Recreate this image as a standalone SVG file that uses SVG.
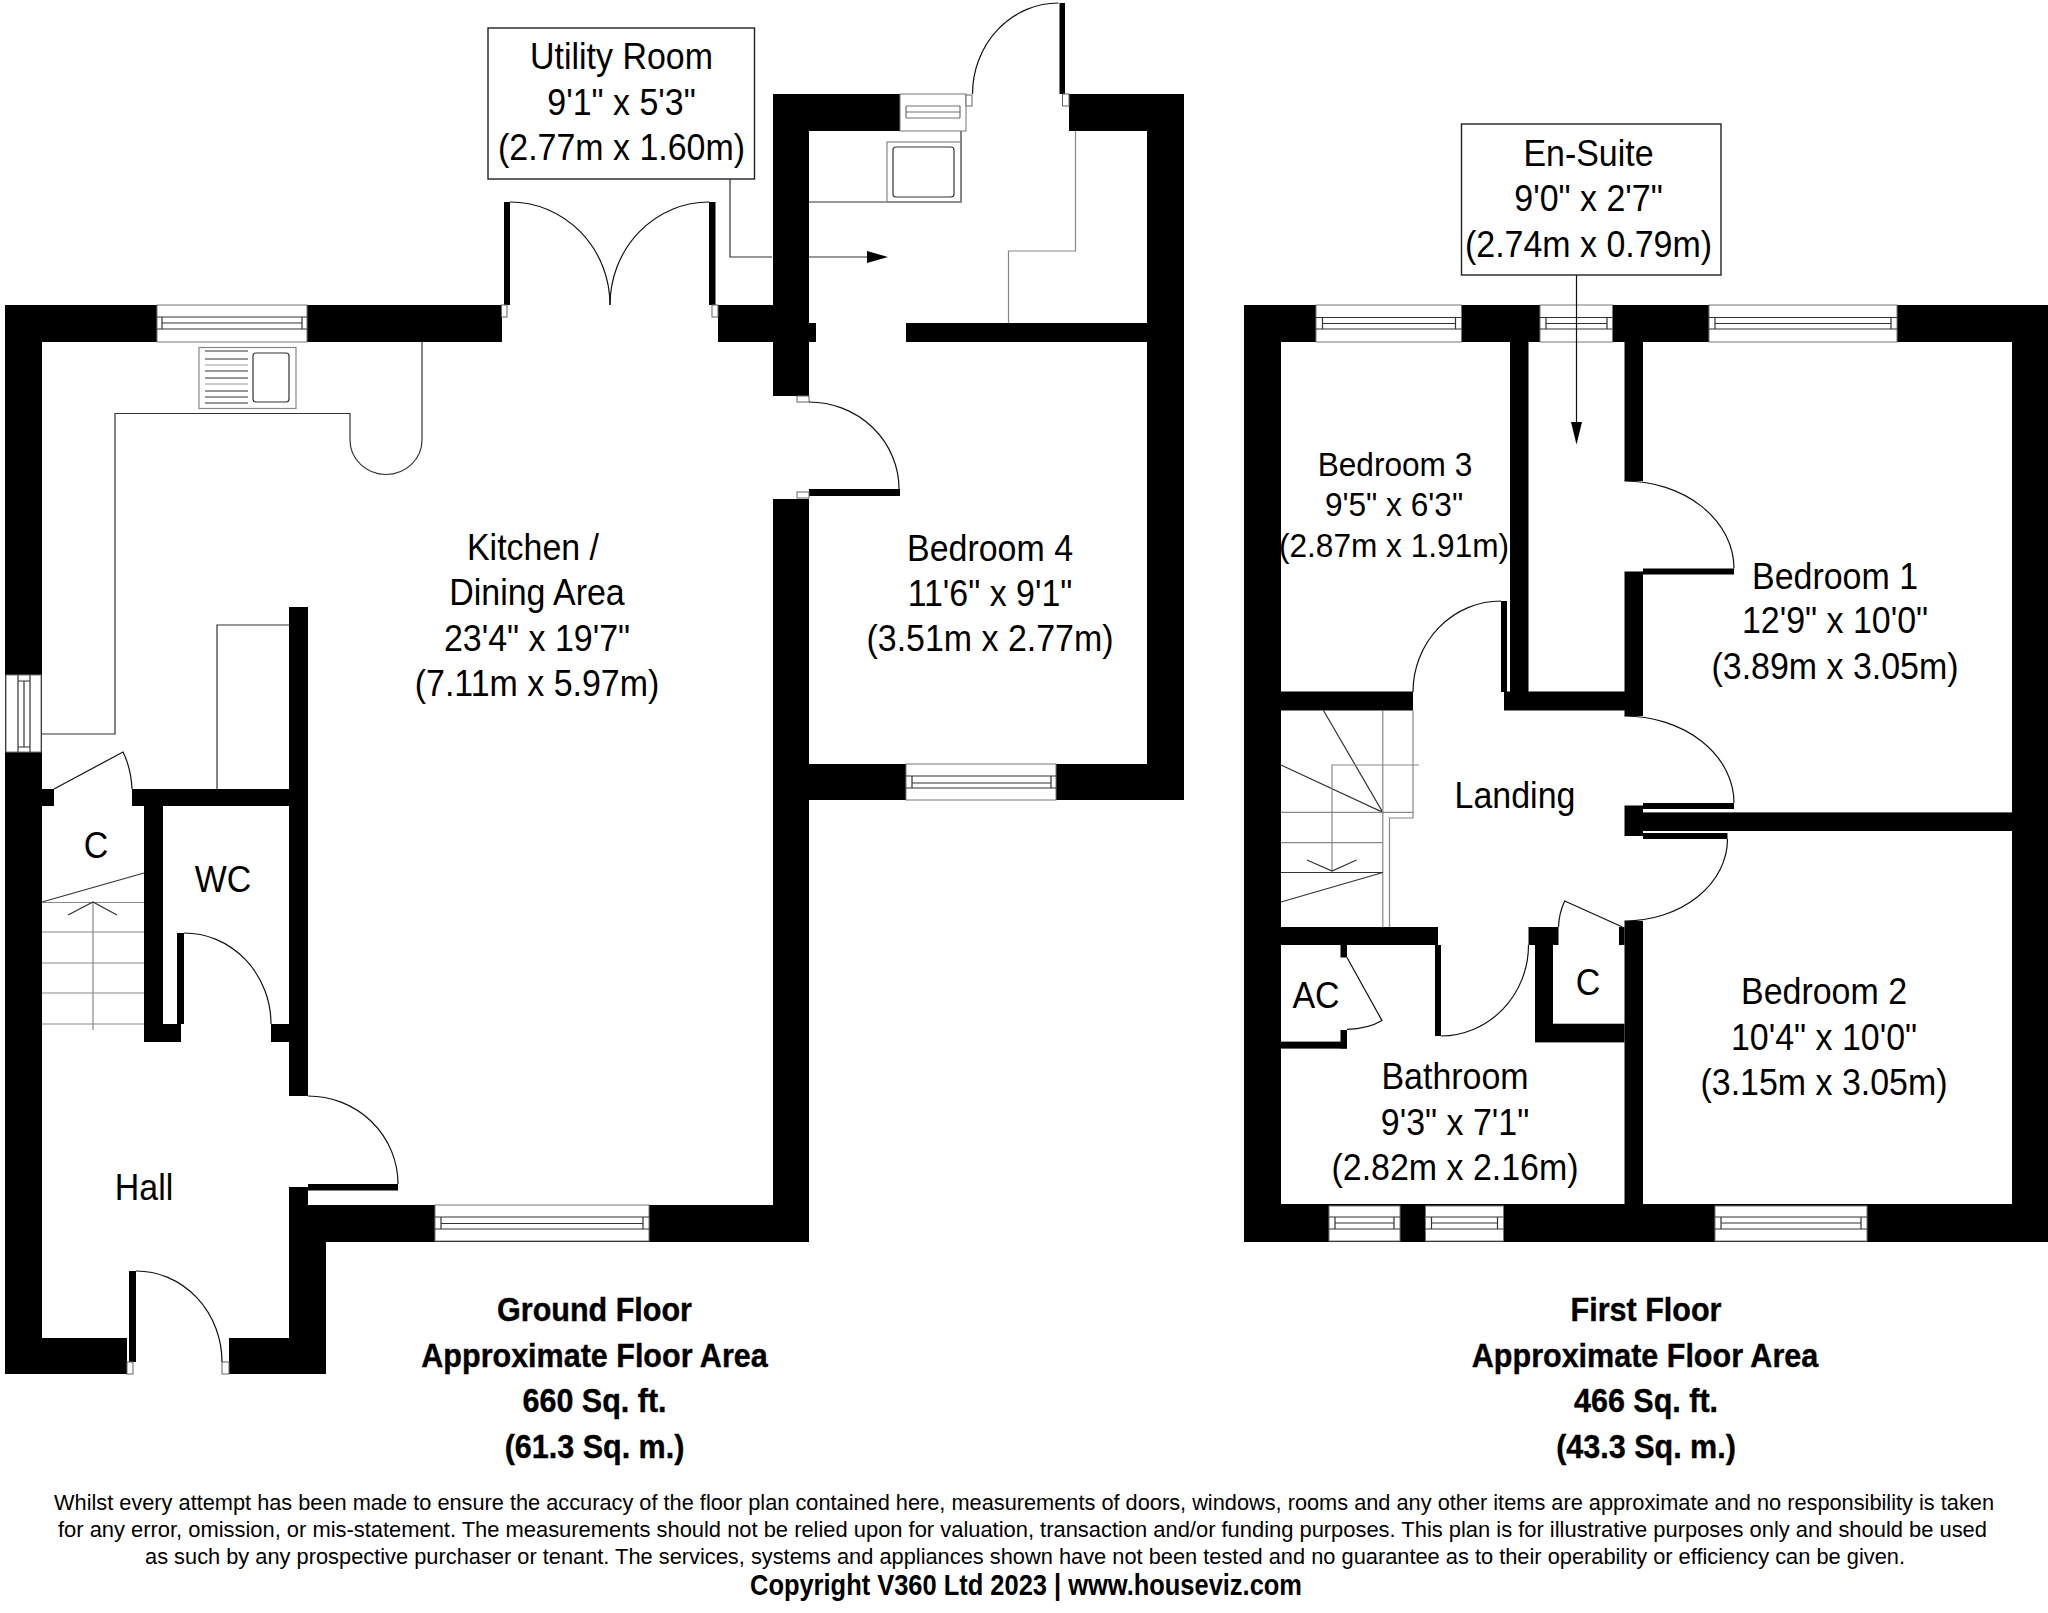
<svg xmlns="http://www.w3.org/2000/svg" width="2048" height="1613" viewBox="0 0 2048 1613">
<style>
text{font-family:"Liberation Sans",Arial,sans-serif;fill:#000;text-anchor:middle}
.r{font-size:36.500px}
.r3{font-size:34px}
.b{font-size:33px;font-weight:bold;stroke:#000;stroke-width:.4}
.f{font-size:22px}
.c{font-size:29px;font-weight:bold}
.w{fill:#000}
.win{fill:#fff;stroke:#777;stroke-width:1}
.l{fill:none;stroke:#333;stroke-width:1.2}
.g{fill:none;stroke:#888;stroke-width:1.2}
.d{fill:none;stroke:#111;stroke-width:1.2}
.box{fill:#fff;stroke:#222;stroke-width:1.4}
.fr{fill:#fff;stroke:#666;stroke-width:1}
</style>
<rect width="2048" height="1613" fill="#fff"/>

<g id="ground-floor-fittings">
<path class="l" d="M42 734H115V413.500H350V440A36 34.500 0 0 0 422 440V342"/>
<rect class="g" x="199" y="347.500" width="97" height="61"/>
<rect class="l" x="253" y="353" width="36" height="49" rx="3"/>
<path class="l" d="M205 351H248M205 359H248M205 371H248M205 378H248M205 391H248M205 397H248M205 403H248"/>
<path class="l" d="M205 365H248M205 384H248" stroke-opacity=".5"/>
<path class="l" d="M289 625H217V789"/>
<path class="l" d="M961 131V202H809"/>
<rect class="g" x="887" y="142" width="74" height="60"/>
<rect class="l" x="893" y="147" width="61" height="50" rx="3"/>
<path class="g" d="M1075.500 131V251H1008.500V323"/>
<path class="l" d="M42 902L144 873"/>
<path class="g" d="M42 902.500H144M42 932H144M42 963H144M42 993H144M42 1024H144M93 902V1030"/>
<path class="l" d="M68 915L93 902L117 915"/>
</g>

<g id="ground-floor-walls" class="w">
<rect x="5" y="305" width="37" height="1069"/>
<rect x="5" y="305" width="497" height="37"/>
<rect x="718" y="305" width="55" height="37"/>
<rect x="773" y="94" width="36" height="302"/>
<rect x="809" y="323" width="7" height="19"/>
<rect x="906" y="323" width="241" height="19"/>
<rect x="773" y="94" width="127" height="37"/>
<rect x="1069" y="94" width="115" height="37"/>
<rect x="1147" y="94" width="37" height="706"/>
<rect x="773" y="764" width="411" height="36"/>
<rect x="773" y="499" width="36" height="743"/>
<rect x="308" y="1205" width="501" height="37"/>
<rect x="289" y="607" width="19" height="489"/>
<rect x="132" y="789" width="157" height="17"/>
<rect x="42" y="789" width="12" height="17"/>
<rect x="144" y="806" width="19" height="236"/>
<rect x="144" y="1024" width="37" height="18"/>
<rect x="271" y="1024" width="18" height="18"/>
<rect x="177" y="933" width="7" height="91"/>
<rect x="289" y="1187" width="19" height="18"/>
<rect x="289" y="1205" width="37" height="169"/>
<rect x="5" y="1338" width="122" height="36"/>
<rect x="229" y="1338" width="97" height="36"/>
<rect x="129" y="1271" width="7" height="91"/>
<rect x="308" y="1184" width="90" height="6.500"/>
<rect x="504" y="202" width="6" height="103"/>
<rect x="709" y="202" width="6.500" height="103"/>
<rect x="1059.500" y="3" width="5.500" height="91"/>
<rect x="809" y="489" width="91" height="7"/>
</g>

<g id="ground-floor-windows">
<rect class="win" x="157" y="305" width="150" height="37"/>
<path class="l" d="M157 317H307M162 323H302M157 329H307M162 317V329M302 317V329"/>
<rect class="win" x="6" y="675" width="35" height="77"/>
<path class="l" d="M18 675V752M24 681V747M30 675V752M18 681H30M18 747H30"/>
<rect class="win" x="906" y="764" width="150" height="36"/>
<path class="l" d="M906 776H1056M912 783H1051M906 788H1056M912 776V788M1051 776V788"/>
<rect class="win" x="435" y="1205" width="214" height="36"/>
<path class="l" d="M435 1217H649M441 1223.500H643M435 1229H649M441 1217V1229M643 1217V1229"/>
<rect class="win" x="900" y="94" width="66" height="37"/>
<path class="l" d="M906 106H960M906 112H960M906 118H960M906 106V118M960 106V118" stroke-opacity=".7"/>
<rect class="fr" x="966" y="95" width="6" height="11"/>
<rect class="fr" x="1062.500" y="94" width="6.500" height="12"/>
<rect class="fr" x="501.500" y="305" width="5.500" height="12"/>
<rect class="fr" x="712" y="305" width="6" height="12"/>
<rect class="fr" x="797" y="396" width="12" height="6"/>
<rect class="fr" x="797" y="492" width="12" height="6"/>
<rect class="fr" x="127" y="1362" width="6" height="12"/>
<rect class="fr" x="222" y="1362" width="7" height="12"/>
</g>

<g id="ground-floor-doors">
<path class="d" d="M54 789L123 752Q131 768 132 789"/>
<path class="d" d="M184 933A87 91 0 0 1 271 1024"/>
<path class="d" d="M308 1096A90 88 0 0 1 398 1184"/>
<path class="d" d="M136 1271A86 91 0 0 1 222 1362"/>
<path class="d" d="M510 202A100 103 0 0 1 610 305"/>
<path class="d" d="M709 202A99 103 0 0 0 610 305"/>
<path class="d" d="M1058.500 3A86 91 0 0 0 972.500 94"/>
<path class="d" d="M809 402A90 87 0 0 1 899 489"/>
</g>

<g id="first-floor-fittings">
<path class="l" d="M1323.500 710.500L1382.800 812.400L1281 765"/>
<path class="g" d="M1382.800 710.500V927M1281 812.400H1413M1413 710.500V818H1389.500V927M1281 842.600H1382.800"/>
<path class="l" d="M1281 872.500H1382.800L1281 902"/>
<path class="g" d="M1419 765H1332V871"/>
<path class="l" d="M1307 860L1332 871L1356.500 860"/>
</g>

<g id="first-floor-walls" class="w">
<rect x="1244" y="305" width="37" height="937"/>
<rect x="1244" y="305" width="804" height="37"/>
<rect x="2012" y="305" width="36" height="937"/>
<rect x="1244" y="1204" width="804" height="38"/>
<rect x="1510" y="342" width="18.500" height="368"/>
<rect x="1624.500" y="342" width="18.500" height="139"/>
<rect x="1624.500" y="571.500" width="18.500" height="144.500"/>
<rect x="1281" y="691.500" width="132" height="19"/>
<rect x="1504" y="691.500" width="139" height="19"/>
<rect x="1501" y="601" width="6" height="91"/>
<rect x="1643" y="568.500" width="91" height="6"/>
<rect x="1643" y="803" width="91" height="6"/>
<rect x="1643" y="833" width="84.500" height="6"/>
<rect x="1624.500" y="805.500" width="18.500" height="30.500"/>
<rect x="1643" y="812.400" width="369" height="18.600"/>
<rect x="1624.500" y="921" width="18.500" height="283"/>
<rect x="1281" y="927" width="157" height="18"/>
<rect x="1528.500" y="927" width="30" height="18"/>
<rect x="1535" y="945" width="18" height="97"/>
<rect x="1535" y="1023.700" width="89.500" height="18.700"/>
<rect x="1619" y="927" width="5.500" height="18"/>
<rect x="1435" y="945" width="6" height="91"/>
<rect x="1340.500" y="945" width="6.500" height="12.500"/>
<rect x="1340.500" y="1030" width="6.500" height="18.500"/>
<rect x="1281" y="1041.600" width="66" height="7"/>
</g>

<g id="first-floor-windows">
<rect class="win" x="1316" y="305" width="145.500" height="37"/>
<path class="l" d="M1316 317.500H1461.500M1322.500 323.500H1455.500M1316 329H1461.500M1322.500 317.500V329M1455.500 317.500V329"/>
<rect class="win" x="1540" y="305" width="72.500" height="37"/>
<path class="l" d="M1540 317.500H1612.500M1546 323.500H1607M1540 329H1612.500M1546 317.500V329M1607 317.500V329"/>
<rect class="win" x="1709" y="305" width="188" height="37"/>
<path class="l" d="M1709 317.500H1897M1715 323.500H1891M1709 329H1897M1715 317.500V329M1891 317.500V329"/>
<rect class="win" x="1329" y="1206" width="71" height="35"/>
<path class="l" d="M1329 1217H1400M1335 1223H1394M1329 1229H1400M1335 1217V1229M1394 1217V1229"/>
<rect class="win" x="1425.500" y="1206" width="78" height="35"/>
<path class="l" d="M1425.500 1217H1503.500M1431.500 1223H1497.500M1425.500 1229H1503.500M1431.500 1217V1229M1497.500 1217V1229"/>
<rect class="win" x="1715" y="1206" width="152" height="35"/>
<path class="l" d="M1715 1217H1867M1721 1223H1861M1715 1229H1867M1721 1217V1229M1861 1217V1229"/>
</g>

<g id="first-floor-doors">
<path class="d" d="M1624.500 481A109.500 87.500 0 0 1 1734 568.500"/>
<path class="d" d="M1501 601A88 91 0 0 0 1413 692"/>
<path class="d" d="M1624.500 716A109.500 87 0 0 1 1734 803"/>
<path class="d" d="M1727.500 839A103 82 0 0 1 1624.500 921"/>
<path class="d" d="M1622.500 927L1564.700 901Q1559 913 1558.500 927"/>
<path class="d" d="M1441 1036A88 91 0 0 0 1528.500 945"/>
<path class="d" d="M1347 957.500L1382 1020.600Q1368 1029 1347 1029.400"/>
</g>

<g id="connectors">
<path class="l" d="M730 179V257H772M809 257H868"/>
<path class="w" d="M867 251L888 257L867 263Z"/>
<path class="d" d="M1576.500 275V425"/>
<path class="w" d="M1571 422H1582L1576.500 444.500Z"/>
</g>

<g id="utility-room-label">
<rect class="box" x="488" y="28" width="266.500" height="151"/>
<text class="r" transform="translate(621.500 69) scale(.93 1)">Utility Room</text>
<text class="r" transform="translate(621.500 114.500) scale(.93 1)">9'1" x 5'3"</text>
<text class="r" transform="translate(621.500 160) scale(.93 1)">(2.77m x 1.60m)</text>
</g>
<g id="en-suite-label">
<rect class="box" x="1461.500" y="124" width="259.500" height="151"/>
<text class="r" transform="translate(1588.500 166) scale(.93 1)">En-Suite</text>
<text class="r" transform="translate(1588.500 211) scale(.93 1)">9'0" x 2'7"</text>
<text class="r" transform="translate(1588.500 257) scale(.93 1)">(2.74m x 0.79m)</text>
</g>
<g id="kitchen-label">
<text class="r" transform="translate(533 560) scale(.93 1)">Kitchen /</text>
<text class="r" transform="translate(537 605) scale(.93 1)">Dining Area</text>
<text class="r" transform="translate(537 651) scale(.93 1)">23'4" x 19'7"</text>
<text class="r" transform="translate(537 696) scale(.93 1)">(7.11m x 5.97m)</text>
</g>
<g id="bedroom-4-label">
<text class="r" transform="translate(990 561) scale(.93 1)">Bedroom 4</text>
<text class="r" transform="translate(990 606) scale(.93 1)">11'6" x 9'1"</text>
<text class="r" transform="translate(990 651) scale(.93 1)">(3.51m x 2.77m)</text>
</g>
<g id="bedroom-3-label">
<text class="r3" transform="translate(1395 476) scale(.93 1)">Bedroom 3</text>
<text class="r3" transform="translate(1394 516) scale(.93 1)">9'5" x 6'3"</text>
<text class="r3" transform="translate(1394 557) scale(.93 1)">(2.87m x 1.91m)</text>
</g>
<g id="bedroom-1-label">
<text class="r" transform="translate(1835 589) scale(.93 1)">Bedroom 1</text>
<text class="r" transform="translate(1835 633) scale(.93 1)">12'9" x 10'0"</text>
<text class="r" transform="translate(1835 679) scale(.93 1)">(3.89m x 3.05m)</text>
</g>
<g id="bedroom-2-label">
<text class="r" transform="translate(1824 1004) scale(.93 1)">Bedroom 2</text>
<text class="r" transform="translate(1824 1050) scale(.93 1)">10'4" x 10'0"</text>
<text class="r" transform="translate(1824 1095) scale(.93 1)">(3.15m x 3.05m)</text>
</g>
<g id="bathroom-label">
<text class="r" transform="translate(1455 1089) scale(.93 1)">Bathroom</text>
<text class="r" transform="translate(1455 1135) scale(.93 1)">9'3" x 7'1"</text>
<text class="r" transform="translate(1455 1180) scale(.93 1)">(2.82m x 2.16m)</text>
</g>
<g id="small-labels">
<text class="r" transform="translate(1515 808) scale(.93 1)">Landing</text>
<text class="r" transform="translate(1588 995) scale(.93 1)">C</text>
<text class="r" transform="translate(1316 1008) scale(.93 1)">AC</text>
<text class="r" transform="translate(96 858) scale(.93 1)">C</text>
<text class="r" transform="translate(223 892) scale(.93 1)">WC</text>
<text class="r" transform="translate(144 1200) scale(.93 1)">Hall</text>
</g>
<g id="ground-floor-caption">
<text class="b" transform="translate(594.500 1321) scale(.925 1)">Ground Floor</text>
<text class="b" transform="translate(594.500 1367) scale(.925 1)">Approximate Floor Area</text>
<text class="b" transform="translate(594.500 1412) scale(.925 1)">660 Sq. ft.</text>
<text class="b" transform="translate(594.500 1458) scale(.925 1)">(61.3 Sq. m.)</text>
</g>
<g id="first-floor-caption">
<text class="b" transform="translate(1646 1321) scale(.925 1)">First Floor</text>
<text class="b" transform="translate(1645 1367) scale(.925 1)">Approximate Floor Area</text>
<text class="b" transform="translate(1646 1412) scale(.925 1)">466 Sq. ft.</text>
<text class="b" transform="translate(1646 1458) scale(.925 1)">(43.3 Sq. m.)</text>
</g>
<g id="disclaimer">
<text class="f" x="1024" y="1510" textLength="1940" lengthAdjust="spacingAndGlyphs">Whilst every attempt has been made to ensure the accuracy of the floor plan contained here, measurements of doors, windows, rooms and any other items are approximate and no responsibility is taken</text>
<text class="f" x="1022.500" y="1537" textLength="1929" lengthAdjust="spacingAndGlyphs">for any error, omission, or mis-statement. The measurements should not be relied upon for valuation, transaction and/or funding purposes. This plan is for illustrative purposes only and should be used</text>
<text class="f" x="1025" y="1564" textLength="1760" lengthAdjust="spacingAndGlyphs">as such by any prospective purchaser or tenant. The services, systems and appliances shown have not been tested and no guarantee as to their operability or efficiency can be given.</text>
<text class="c" x="1026" y="1595" textLength="552" lengthAdjust="spacingAndGlyphs">Copyright V360 Ltd 2023 | www.houseviz.com</text>
</g>
</svg>
